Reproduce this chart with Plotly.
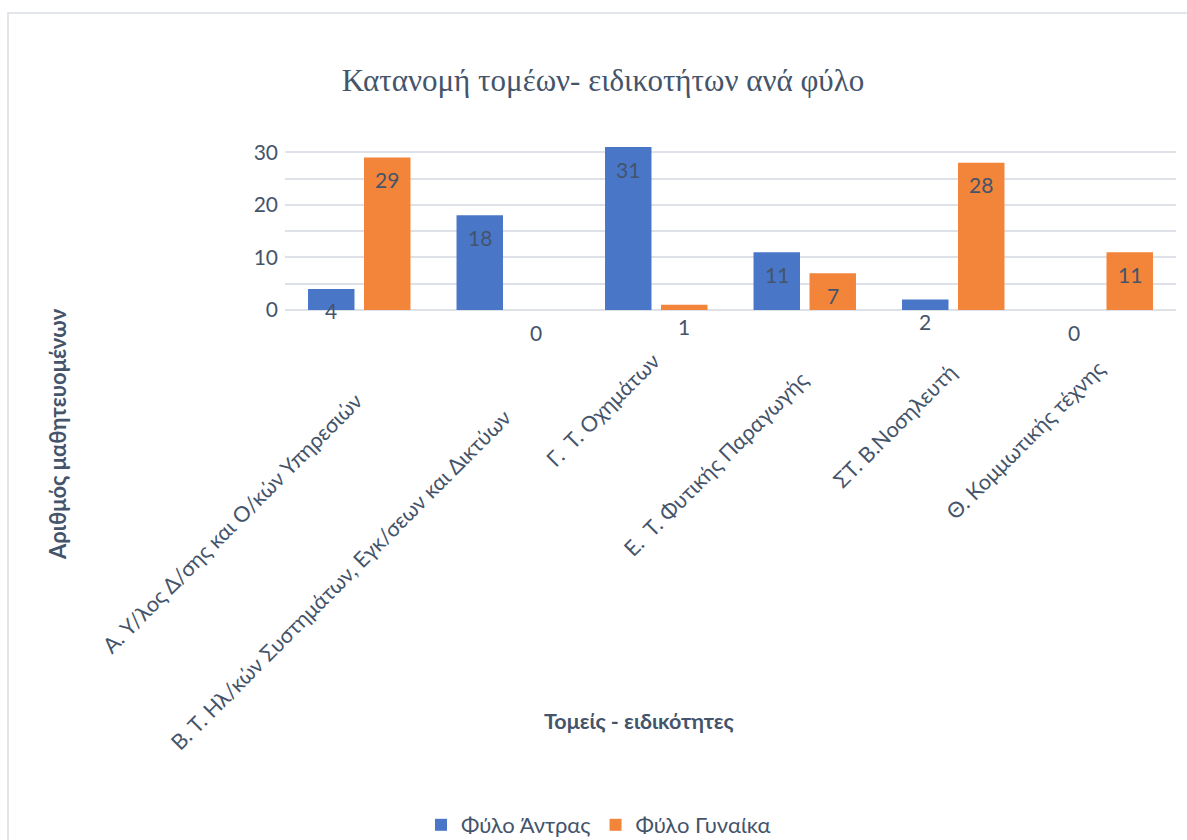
import plotly.graph_objects as go

categories = [
    "Α. Υ/λος Δ/σης και Ο/κών Υπηρεσιών",
    "Β. Τ. Ηλ/κών Συστημάτων, Εγκ/σεων και Δικτύων",
    "Γ.\u00a0 Τ. Οχημάτων",
    "Ε.\u00a0 Τ. Φυτικής Παραγωγής",
    "ΣΤ. Β.Νοσηλευτή",
    "Θ. Κομμωτικής τέχνης",
]
men = [4, 18, 31, 11, 2, 0]
women = [29, 0, 1, 7, 28, 11]
series_names = ["Φύλο Άντρας", "Φύλο Γυναίκα"]
series_colors = ["#4A76C8", "#F2853A"]
y_ticks = [0, 10, 20, 30]

# vertical placement (px from top) of the upper end of each rotated category label
label_top_px = [385, 402, 345, 364, 356, 353]

TEXT = "#44546A"
FONT = "Lato, Carlito, 'Open Sans', sans-serif"

W, H = 1187, 840
L, R, T, B = 285, 11, 126, 530
pw, ph = W - L - R, H - T - B


def px_x(p):
    return (p - L) / pw


def px_y(p):
    return (H - B - p) / ph


fig = go.Figure()
for name, vals, col in zip(series_names, [men, women], series_colors):
    fig.add_trace(go.Bar(x=categories, y=vals, name=name, marker_color=col,
                         marker_line_width=0, hoverinfo="x+y+name"))

ann = []
# data labels (inside end, like Excel)
for k, vals in enumerate([men, women]):
    shift = -28 if k == 0 else 28
    for c, v in zip(categories, vals):
        ann.append(dict(x=c, y=v, xref="x", yref="y", text=str(v), showarrow=False,
                        xshift=shift, yshift=-22, yanchor="middle", xanchor="center",
                        font=dict(family=FONT, size=21, color=TEXT)))

# rotated category labels
for c, ytop in zip(categories, label_top_px):
    ann.append(dict(x=c, y=px_y(ytop), xref="x", yref="paper", text=c, showarrow=False,
                    textangle=-45, xanchor="right", yanchor="top", xshift=11,
                    font=dict(family=FONT, size=21.5, color=TEXT)))

ann.append(dict(x=px_x(639), y=px_y(721), xref="paper", yref="paper",
                text="<b>Τομείς - ειδικότητες</b>", showarrow=False,
                xanchor="center", yanchor="middle",
                font=dict(family=FONT, size=21.5, color=TEXT)))
ann.append(dict(x=px_x(57), y=px_y(434), xref="paper", yref="paper",
                text="<b>Αριθμός μαθητευομένων</b>", showarrow=False, textangle=-90,
                xanchor="center", yanchor="middle",
                font=dict(family=FONT, size=22, color=TEXT)))

fig.update_layout(
    width=W, height=H,
    margin=dict(l=L, r=R, t=T, b=B, autoexpand=False),
    paper_bgcolor="white", plot_bgcolor="white",
    barmode="group", bargap=0.246, bargroupgap=0.17,
    title=dict(text="Κατανομή τομέων- ειδικοτήτων ανά φύλο", x=603 / W, xanchor="center",
               y=1 - 80 / H, yanchor="middle",
               font=dict(family="'Liberation Serif', 'Times New Roman', serif", size=31, color="#44546A")),
    xaxis=dict(type="category", range=[-0.5, len(categories) - 0.5], autorange=False,
               showticklabels=False, showgrid=False, showline=False,
               zeroline=False, ticks="", automargin=False),
    yaxis=dict(range=[0, 35], autorange=False, tickvals=y_ticks, showgrid=True,
               gridcolor="#DEE2E8", gridwidth=2,
               zeroline=True, zerolinecolor="#DEE2E8", zerolinewidth=2, showline=False,
               ticks="", ticklabelstandoff=6, automargin=False,
               minor=dict(dtick=5, showgrid=True, gridcolor="#DEE2E8", gridwidth=2),
               tickfont=dict(family=FONT, size=21, color=TEXT)),
    legend=dict(orientation="h", xref="container", yref="container", x=421 / W, xanchor="left",
                y=1 - 825 / H, yanchor="middle", font=dict(family=FONT, size=22, color=TEXT),
                itemclick=False, bgcolor="rgba(0,0,0,0)"),
    annotations=ann,
    shapes=[dict(type="rect", xref="paper", yref="paper", x0=px_x(8), x1=px_x(1250),
                 y0=px_y(13), y1=px_y(1000), line=dict(color="#D9DDE3", width=1.5),
                 fillcolor="rgba(0,0,0,0)", layer="below")],
)

fig.write_html(
    "out.html",
    config={"displayModeBar": False},
    post_script="document.body.style.margin='0px';document.body.style.overflow='hidden';"
                "document.documentElement.style.overflow='hidden';",
)
